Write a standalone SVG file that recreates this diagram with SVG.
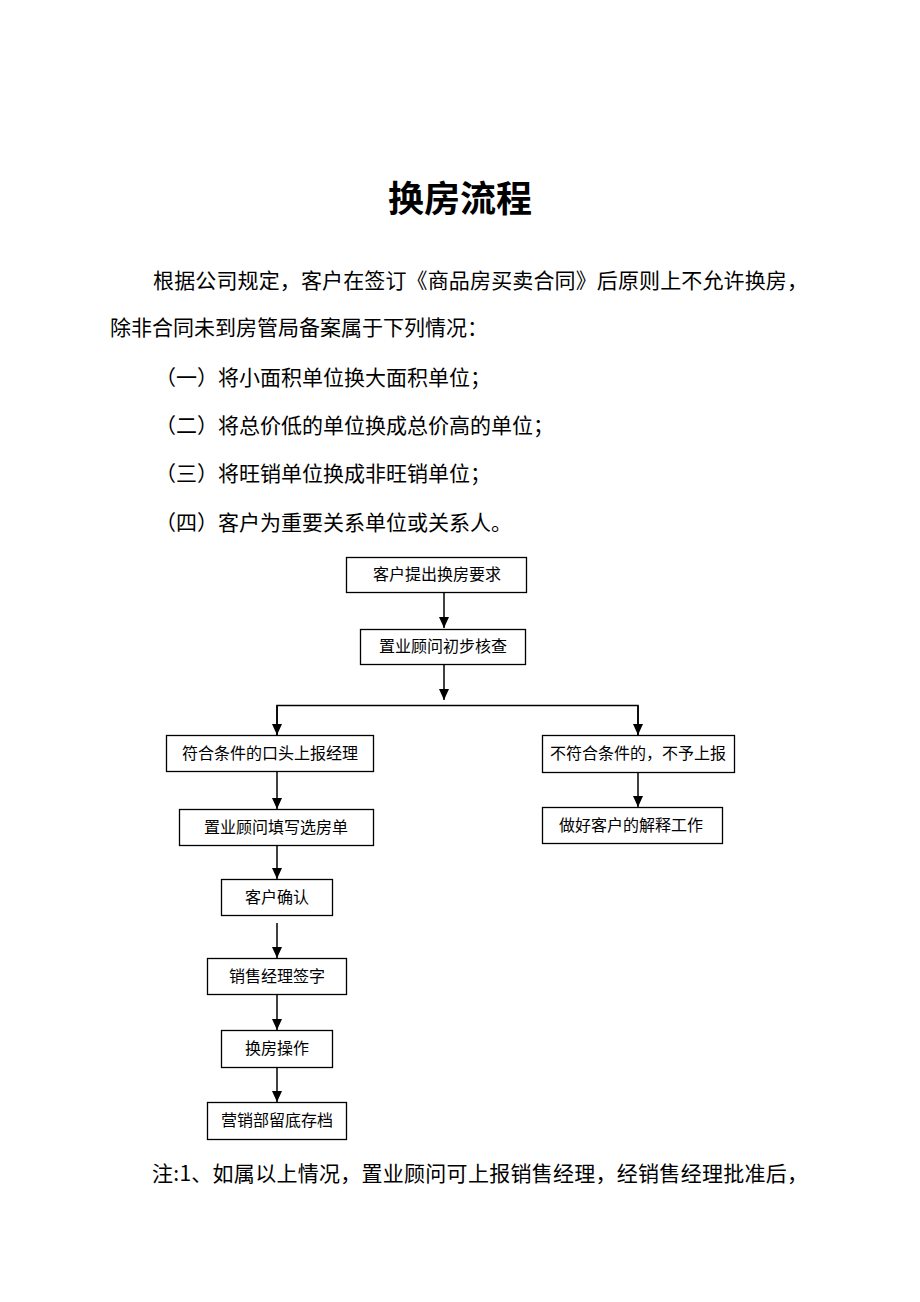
<svg xmlns="http://www.w3.org/2000/svg" width="920" height="1302" viewBox="0 0 920 1302">
<style>
.t{font-family:"Noto Sans CJK SC","Liberation Sans",sans-serif;fill:#000}
.title{font-size:36px;font-weight:bold}
.p{font-size:21px}
.bt{font-size:16px;text-anchor:middle}
.box{fill:#fff;stroke:#000;stroke-width:1.3}
.c{stroke:#000;stroke-width:1.5;fill:none}
</style>
<defs>
<marker id="ah" markerUnits="userSpaceOnUse" markerWidth="10" markerHeight="12" refX="5" refY="11" orient="0" viewBox="0 0 10 12">
<path d="M0,0 L10,0 L5,11 Z" fill="#000"/>
</marker>
</defs>
<rect width="920" height="1302" fill="#fff"/>
<g id="text">
<text class="t title" x="460" y="212" text-anchor="middle">换房流程</text>
<text class="t p" x="153" y="288" textLength="655" lengthAdjust="spacing">根据公司规定，客户在签订《商品房买卖合同》后原则上不允许换房，</text>
<text class="t p" x="110" y="335">除非合同未到房管局备案属于下列情况：</text>
<text class="t p" x="155" y="385">（一）将小面积单位换大面积单位；</text>
<text class="t p" x="155" y="433">（二）将总价低的单位换成总价高的单位；</text>
<text class="t p" x="155" y="481">（三）将旺销单位换成非旺销单位；</text>
<text class="t p" x="155" y="530">（四）客户为重要关系单位或关系人。</text>
<text class="t p" x="152" y="1181" textLength="656" lengthAdjust="spacing">注:1、如属以上情况，置业顾问可上报销售经理，经销售经理批准后，</text>
</g>
<g id="connectors">
<line class="c" x1="444" y1="592" x2="444" y2="628" marker-end="url(#ah)"/>
<line class="c" x1="444" y1="665" x2="444" y2="700" marker-end="url(#ah)"/>
<polyline class="c" points="277,735 277,705.5 638,705.5 638,735"/>
<line class="c" x1="277" y1="705.5" x2="277" y2="735" marker-end="url(#ah)"/>
<line class="c" x1="638" y1="705.5" x2="638" y2="735" marker-end="url(#ah)"/>
<line class="c" x1="277" y1="771" x2="277" y2="809" marker-end="url(#ah)"/>
<line class="c" x1="638" y1="773" x2="638" y2="807" marker-end="url(#ah)"/>
<line class="c" x1="277" y1="846" x2="277" y2="879" marker-end="url(#ah)"/>
<line class="c" x1="277" y1="923" x2="277" y2="958" marker-end="url(#ah)"/>
<line class="c" x1="277" y1="994" x2="277" y2="1030" marker-end="url(#ah)"/>
<line class="c" x1="277" y1="1067" x2="277" y2="1102" marker-end="url(#ah)"/>
</g>
<g id="n1"><rect class="box" x="346.5" y="557.5" width="180" height="35"/><text class="t bt" x="437" y="580">客户提出换房要求</text></g>
<g id="n2"><rect class="box" x="360.5" y="629.5" width="165" height="35"/><text class="t bt" x="443" y="652">置业顾问初步核查</text></g>
<g id="n3"><rect class="box" x="166.5" y="735.5" width="207" height="36"/><text class="t bt" x="270" y="759">符合条件的口头上报经理</text></g>
<g id="n4"><rect class="box" x="179.5" y="809.5" width="194" height="36"/><text class="t bt" x="276" y="833">置业顾问填写选房单</text></g>
<g id="n5"><rect class="box" x="542.5" y="735.5" width="192" height="37"/><text class="t bt" x="638" y="759">不符合条件的，不予上报</text></g>
<g id="n6"><rect class="box" x="542.5" y="807.5" width="180" height="36"/><text class="t bt" x="631" y="831">做好客户的解释工作</text></g>
<g id="n7"><rect class="box" x="221.5" y="879.5" width="111" height="36"/><text class="t bt" x="277" y="903">客户确认</text></g>
<g id="n8"><rect class="box" x="207.5" y="958.5" width="139" height="36"/><text class="t bt" x="277" y="982">销售经理签字</text></g>
<g id="n9"><rect class="box" x="221.5" y="1030.5" width="111" height="37"/><text class="t bt" x="277" y="1054">换房操作</text></g>
<g id="n10"><rect class="box" x="207.5" y="1102.5" width="139" height="37"/><text class="t bt" x="277" y="1126">营销部留底存档</text></g>
</svg>
